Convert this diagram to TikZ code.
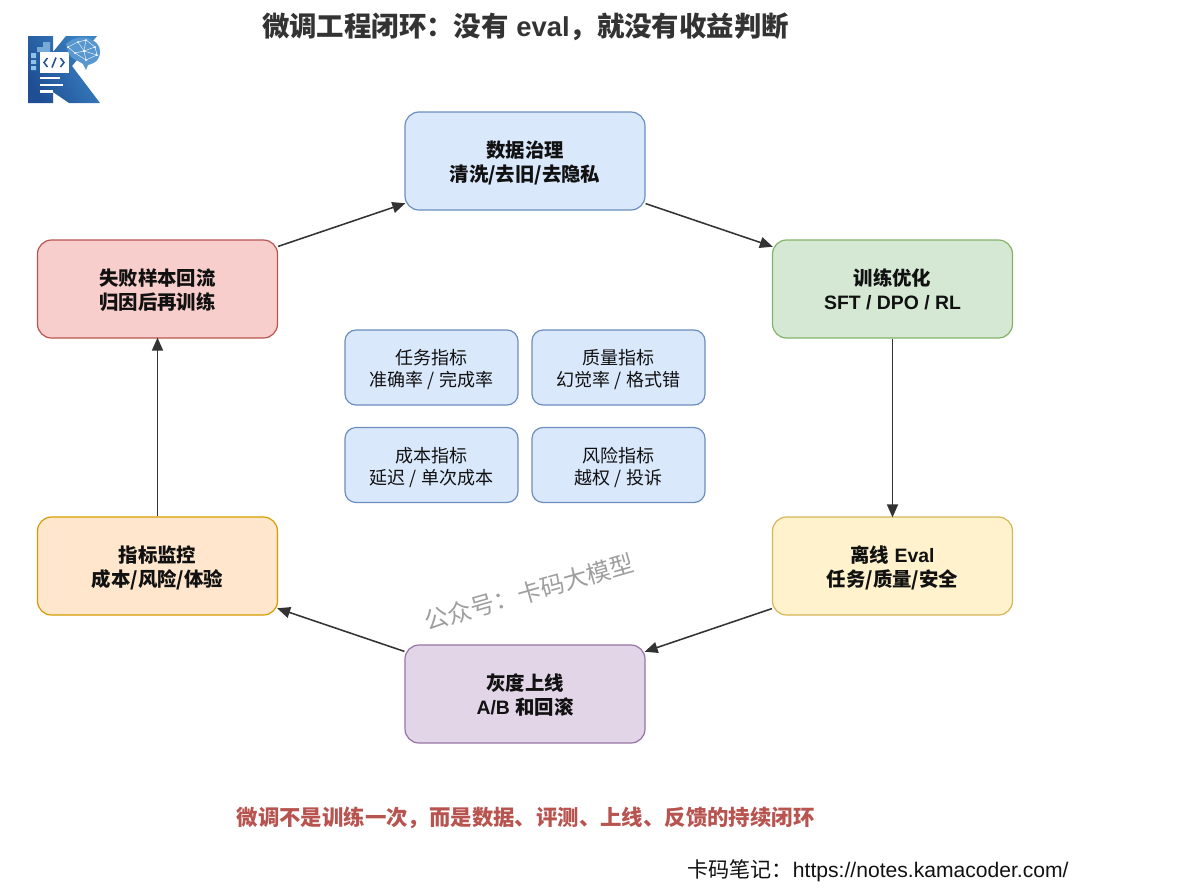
\documentclass[tikz,border=0pt]{standalone}
\usepackage{fontspec}
\setmainfont{Liberation Sans}
\newfontfamily\cjk{Noto Sans CJK SC}
\newcommand{\C}[1]{{\cjk #1}}
\newcommand{\Mup}{\rule{0pt}{19.5pt}}
\usetikzlibrary{calc,arrows.meta}
\definecolor{ink}{HTML}{111111}
\definecolor{wire}{HTML}{333333}
\tikzset{
  flowbox/.style={draw,rounded corners=14pt,line width=1.2pt,minimum width=240pt,minimum height=98pt,align=center,inner sep=0pt,text depth=0pt,font=\fontsize{19.4}{23.5}\selectfont\bfseries,text=ink},
  metricbox/.style={draw=#1,fill=blueF,rounded corners=11pt,line width=1.2pt,minimum width=173pt,minimum height=75pt,align=center,inner sep=0pt,font=\fontsize{18}{22}\selectfont,text=ink},
  conn/.style={draw=wire,line width=1.55pt,-{Triangle[length=13pt,width=11pt]},shorten >=-1pt},
}
\definecolor{blueF}{HTML}{DAE8FC}\definecolor{blueD}{HTML}{6C8EBF}
\definecolor{greenF}{HTML}{D5E8D4}\definecolor{greenD}{HTML}{82B366}
\definecolor{yelF}{HTML}{FFF2CC}\definecolor{yelD}{HTML}{D6B656}
\definecolor{purF}{HTML}{E1D5E7}\definecolor{purD}{HTML}{9673A6}
\definecolor{orF}{HTML}{FFE6CC}\definecolor{orD}{HTML}{D79B00}
\definecolor{redF}{HTML}{F8CECC}\definecolor{redD}{HTML}{B85450}
\definecolor{logoA}{HTML}{1F4E94}\definecolor{logoB}{HTML}{3C86C6}\definecolor{logoC}{HTML}{8FC3E8}
\begin{document}
\begin{tikzpicture}[x=1pt,y=-1pt]
\useasboundingbox (0,0) rectangle (1178,895);
% logo
\shade[left color=logoA,right color=logoB,shading angle=120] (28,36) -- (53,36) -- (53,52) -- (66,36) -- (97,36) -- (72,66) -- (100,103) -- (69,103) -- (53,92) -- (53,103) -- (28,103) -- cycle;
\fill[logoB!70] (37,47) rectangle (43,52) (43,42) rectangle (50,52);
\fill[logoC] (31,53) rectangle (36,58) (31,60) rectangle (36,64) (31,66) rectangle (36,70);
\fill[white] (40,52) rectangle (69,73);
\draw[logoA,line width=1.5pt] (47.5,58) -- (44,62.5) -- (47.5,67) (60.5,58) -- (64,62.5) -- (60.5,67) (56,57.5) -- (52,67.5);
\draw[white,line width=2.2pt] (40,78) -- (60,78) (40,85) -- (63,85) (40,91.5) -- (53,91.5);
\fill[logoB!85] (66,44) .. controls (72,38) and (84,35) .. (92,40) .. controls (99,43) and (102,50) .. (99,57) .. controls (97,63) and (91,64) .. (88,65) -- (86,70) -- (83,64) .. controls (78,60) and (72,60) .. (69,54) -- cycle;
\draw[white,line width=.4pt] (68,47) -- (78,42) -- (86,40) -- (95,47) -- (97,55) -- (86,60) -- (75,53) -- cycle (78,42) -- (84,51) -- (95,47) (75,53) -- (84,51) -- (86,60) (86,40) -- (84,51) -- (97,55);
\foreach \p in {(68,47),(78,42),(86,40),(95,47),(97,55),(86,60),(75,53),(84,51)} \fill[white] \p circle (1pt);
% title
\node[name=title,inner sep=0pt,font=\fontsize{27.4}{32}\selectfont\bfseries,text=wire] at (525.5,26.5) {\C{微调工程闭环：没有} eval\C{，就没有收益判断}};
% boxes
\node[flowbox,draw=blueD,fill=blueF] (data) at (525,161) {\C{数据治理}\\\C{清洗/去旧/去隐私}};
\node[flowbox,draw=greenD,fill=greenF] (train) at (892.5,289) {\C{训练优化}\\SFT / DPO / RL};
\node[flowbox,draw=yelD,fill=yelF] (offline) at (892.5,566) {\C{离线} Eval\\\C{任务/质量/安全}};
\node[flowbox,draw=purD,fill=purF] (gray) at (525,694) {\C{灰度上线}\\A/B \C{和回滚}};
\node[flowbox,draw=orD,fill=orF] (monitor) at (157.5,566) {\C{指标监控}\\\C{成本/风险/体验}};
\node[flowbox,draw=redD,fill=redF] (fail) at (157.5,289) {\C{失败样本回流}\\\C{归因后再训练}};
% metrics
\node[metricbox=blueD] (m1) at (431.5,367.5) {\Mup\C{任务指标}\\\C{准确率 / 完成率}};
\node[metricbox=blueD] (m2) at (618.5,367.5) {\Mup\C{质量指标}\\\C{幻觉率 / 格式错}};
\node[metricbox=blueD] (m3) at (431.5,465) {\Mup\C{成本指标}\\\C{延迟 / 单次成本}};
\node[metricbox=blueD] (m4) at (618.5,465) {\Mup\C{风险指标}\\\C{越权 / 投诉}};
% connectors
\draw[conn] ($(data.south east)+(0,-7)$) -- ($(train.north west)+(0,7)$);
\draw[conn] (train.south) -- (offline.north);
\draw[conn] ($(offline.south west)+(0,-7)$) -- ($(gray.north east)+(0,7)$);
\draw[conn] ($(gray.north west)+(0,7)$) -- ($(monitor.south east)+(0,-7)$);
\draw[conn] (monitor.north) -- (fail.south);
\draw[conn] ($(fail.north east)+(0,7)$) -- ($(data.south west)+(0,-7)$);
% watermark
\node[name=wm,inner sep=0pt,rotate=16,text=black!38,font=\fontsize{24}{28}\selectfont] at (529,592) {\C{公众号：卡码大模型}};
% footers
\node[name=note,inner sep=0pt,font=\fontsize{21.4}{26}\selectfont\bfseries,text=redD] at (525.5,817.5) {\C{微调不是训练一次，而是数据、评测、上线、反馈的持续闭环}};
\node[name=src,inner sep=0pt,font=\fontsize{21.1}{26}\selectfont,text=ink] at (878,870.5) {\C{卡码笔记：}https://notes.kamacoder.com/};
\end{tikzpicture}
\end{document}
